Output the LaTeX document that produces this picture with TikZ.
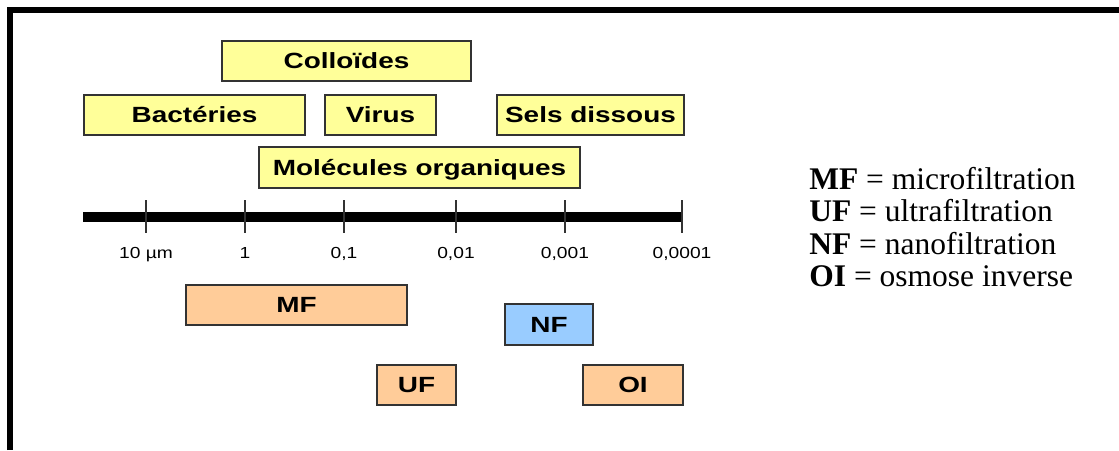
\documentclass[tikz,border=0pt]{standalone}
\usepackage{fontspec}
\setmainfont{Liberation Serif}
\setsansfont{Liberation Sans}
\definecolor{yellowbox}{HTML}{FFFF99}
\definecolor{orangebox}{HTML}{FFCC99}
\definecolor{bluebox}{HTML}{99CCFF}
\newcommand{\widetxt}[1]{\scalebox{1.27}[1]{#1}}
\newcommand{\widelab}[1]{\scalebox{1.2}[1]{#1}}
\tikzset{every picture/.style={line width=0.75pt}}
\tikzset{
	box/.style={draw=black!80, line width=1.5, inner sep=0pt, minimum height=40pt,
		text height=15.5pt, text depth=0pt, font=\sffamily\bfseries\fontsize{22}{22}\selectfont},
	particle/.style={box, fill=yellowbox},
	filtre/.style={box, fill=orangebox},
	scalelab/.style={inner sep=0pt, font=\sffamily\fontsize{16}{16}\selectfont},
	legend/.style={inner sep=0pt, anchor=base west, font=\fontsize{31.5}{31.5}\selectfont}}

\begin{document}
\begin{tikzpicture}[x=1pt,y=1pt,yscale=-1,xscale=1]
	\useasboundingbox (0,0) rectangle (1119,450);

	%Shape: Frame
	\draw [line width=6] (10,450) -- (10,10) -- (1119,10) ;

	%Shape: Rectangle (particles)
	\node [particle, minimum width=249pt] (colloides) at (346.5,61) {\widetxt{Colloïdes}};
	\node [particle, minimum width=221pt] (bacteries) at (194.5,115) {\widetxt{Bactéries}};
	\node [particle, minimum width=111pt] (virus) at (380.5,115) {\widetxt{Virus}};
	\node [particle, minimum width=187pt] (sels) at (590.5,115) {\widetxt{Sels dissous}};
	\node [particle, minimum width=321pt, minimum height=41pt] (molecules) at (419.5,167.5) {\widetxt{Molécules organiques}};

	%Shape: Axis
	\draw [line width=10] (83,217) -- (682,217) ;
	\foreach \x/\lab [count=\i] in {146/{10 µm},245/1,344/{0,1},456/{0,01},565/{0,001},682/{0,0001}} {
		\draw [line width=1.5, black!80] (\x,200) -- (\x,233) ;
		% Text Node
		\node [scalelab, anchor=base] (lab\i) at (\x,258.5) {\widelab{\lab}};
	}

	%Shape: Rectangle (procedes)
	\node [filtre, minimum width=221pt] (mf) at (296.5,305) {\widetxt{MF}};
	\node [filtre, minimum width=79pt] (uf) at (416.5,385) {\widetxt{UF}};
	\node [box, fill=bluebox, minimum width=88pt, minimum height=41pt] (nf) at (549,324.5) {\widetxt{NF}};
	\node [filtre, minimum width=100pt] (oi) at (633,385) {\widetxt{OI}};

	% Text Node
	\node [legend] (legmf) at (809,189) {\textbf{MF} = microfiltration};
	% Text Node
	\node [legend] (leguf) at (809,221.5) {\textbf{UF} = ultrafiltration};
	% Text Node
	\node [legend] (legnf) at (809,254) {\textbf{NF} = nanofiltration};
	% Text Node
	\node [legend] (legoi) at (809,286.5) {\textbf{OI} = osmose inverse};

\end{tikzpicture}
\end{document}
